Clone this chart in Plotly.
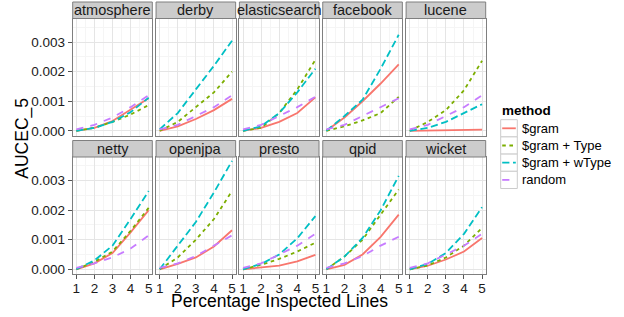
import plotly.graph_objects as go

# ---------------- data ----------------
projects = ["atmosphere", "derby", "elasticsearch", "facebook", "lucene",
            "netty", "openjpa", "presto", "qpid", "wicket"]
pct = [1, 2, 3, 4, 5]
methods = ["$gram", "$gram + Type", "$gram + wType", "random"]

gram_vals = [
    [0, 0.0001, 0.00033, 0.0007, 0.0011],      # atmosphere
    [0, 0.00015, 0.0004, 0.0007, 0.00108],     # derby
    [0, 0.0001, 0.0003, 0.0006, 0.00113],      # elasticsearch
    [0, 0.00045, 0.001, 0.0016, 0.00225],      # facebook
    [0, 0.00001, 0.00002, 0.00003, 0.00004],   # lucene
    [0, 0.0002, 0.00055, 0.00125, 0.002],      # netty
    [0, 0.00018, 0.0004, 0.00077, 0.00132],    # openjpa
    [0, 0.00005, 0.00012, 0.00027, 0.00049],   # presto
    [0, 0.00015, 0.0005, 0.0011, 0.00185],     # qpid
    [0, 0.00012, 0.00033, 0.0006, 0.00106],    # wicket
]
gram_type_vals = [
    [0, 0.0001, 0.0003, 0.00055, 0.00087],
    [0, 0.0003, 0.0008, 0.0013, 0.002],
    [0, 0.0001, 0.0006, 0.0014, 0.0024],
    [0, 0.00015, 0.00035, 0.0006, 0.00115],
    [0, 0.0003, 0.0007, 0.00137, 0.00237],
    [0, 0.00025, 0.0006, 0.0013, 0.00208],
    [0, 0.0004, 0.001, 0.0017, 0.00265],
    [0, 0.00015, 0.00035, 0.0006, 0.0009],
    [0, 0.00043, 0.001, 0.00185, 0.0027],
    [0, 0.00013, 0.0004, 0.0008, 0.0014],
]
gram_wtype_vals = [
    [0, 0.0001, 0.0003, 0.00063, 0.00112],
    [0.00005, 0.0006, 0.0014, 0.0022, 0.00305],
    [0, 0.00015, 0.0006, 0.0013, 0.0021],
    [0, 0.0005, 0.00105, 0.0021, 0.00325],
    [0, 0.0001, 0.0003, 0.0006, 0.0009],
    [0, 0.0003, 0.0008, 0.0017, 0.00265],
    [0, 0.0008, 0.0016, 0.0026, 0.00367],
    [0, 0.00018, 0.0005, 0.00105, 0.0018],
    [0, 0.00043, 0.00106, 0.002, 0.00316],
    [0, 0.00018, 0.00055, 0.0012, 0.0021],
]
random_vals = [
    [0.00005, 0.0002, 0.00045, 0.0008, 0.0012],
    [0.00005, 0.0002, 0.0005, 0.0008, 0.0012],
    [0.00005, 0.0002, 0.0005, 0.0008, 0.00115],
    [0.00005, 0.0002, 0.0005, 0.0008, 0.0011],
    [0.00005, 0.0002, 0.0005, 0.0008, 0.0012],
    [0.00005, 0.0002, 0.0004, 0.0007, 0.00115],
    [0.00005, 0.0002, 0.00045, 0.0008, 0.00115],
    [0.00005, 0.0002, 0.0005, 0.0008, 0.0012],
    [0.00005, 0.0002, 0.00045, 0.0008, 0.0011],
    [0.00005, 0.0002, 0.0005, 0.0008, 0.0012],
]
x_ticks = [1, 2, 3, 4, 5]
y_ticks = [0.0, 0.001, 0.002, 0.003]
y_tick_labels = ["0.000", "0.001", "0.002", "0.003"]

# ---------------- styling ----------------
W, H = 624, 317
FONT = "Liberation Sans, Arial, Helvetica, sans-serif"
colors = ["#F8766D", "#7CAE00", "#00BFC4", "#C77CFF"]
dashes = ["solid", "3.6px,3.6px", "7.2px,3.6px", "7.2px,7.2px"]
series = [gram_vals, gram_type_vals, gram_wtype_vals, random_vals]


def px(x):
    return x / W


def py(y):
    return 1 - y / H


col_left = [72.7 + 83.35 * i for i in range(5)]
panel_w = 79.6
row_top = [18.5, 157.0]
panel_h = 117.3
strip_h = 16.5

fig = go.Figure()
layout = {}
shapes = []
annotations = []

for i, proj in enumerate(projects):
    r, c = divmod(i, 5)
    n = i + 1
    xa = "x" if n == 1 else f"x{n}"
    ya = "y" if n == 1 else f"y{n}"
    for m in range(4):
        fig.add_trace(go.Scatter(
            x=pct, y=series[m][i], mode="lines", name=methods[m],
            line=dict(color=colors[m], width=1.8, dash=dashes[m]),
            xaxis=xa, yaxis=ya, showlegend=False, hoverinfo="skip"))
    left = col_left[c]
    top = row_top[r]
    layout[f"xaxis{n}"] = dict(
        domain=[px(left), px(left + panel_w)], range=[0.8, 5.2],
        anchor=ya, tickmode="array", tickvals=x_ticks,
        ticktext=[str(v) for v in x_ticks],
        showticklabels=(r == 1), ticks="outside" if r == 1 else "",
        ticklen=4, tickcolor="#555555", tickwidth=1, ticklabelstandoff=-3,
        showgrid=True, gridcolor="#E5E5E5", gridwidth=1,
        minor=dict(dtick=0.5, tick0=0.5, showgrid=True, gridcolor="#F5F5F5", gridwidth=0.6),
        showline=True, mirror=True, linecolor="#7F7F7F", linewidth=1,
        zeroline=False, fixedrange=True,
        tickfont=dict(family=FONT, size=13.5, color="#1a1a1a"))
    layout[f"yaxis{n}"] = dict(
        domain=[py(top + panel_h), py(top)], range=[-0.00017, 0.0038],
        anchor=xa, tickmode="array", tickvals=y_ticks, ticktext=y_tick_labels,
        showticklabels=(c == 0), ticks="outside" if c == 0 else "",
        ticklen=4, tickcolor="#555555", tickwidth=1,
        showgrid=True, gridcolor="#E5E5E5", gridwidth=1,
        minor=dict(dtick=0.0005, tick0=0.0005, showgrid=True, gridcolor="#F5F5F5", gridwidth=0.6),
        showline=True, mirror=True, linecolor="#7F7F7F", linewidth=1,
        zeroline=False, fixedrange=True,
        tickfont=dict(family=FONT, size=13.5, color="#1a1a1a"))
    # strip
    s_top = top - strip_h
    shapes.append(dict(type="rect", xref="paper", yref="paper",
                       x0=px(left), x1=px(left + panel_w),
                       y0=py(top), y1=py(s_top),
                       fillcolor="#CCCCCC", line=dict(color="#7F7F7F", width=1)))
    annotations.append(dict(text=proj, xref="paper", yref="paper",
                            x=px(left + panel_w / 2), y=py(s_top + strip_h / 2),
                            xanchor="center", yanchor="middle", showarrow=False,
                            font=dict(family=FONT, size=14.5, color="#1a1a1a")))

# axis titles
annotations.append(dict(text="Percentage Inspected Lines", xref="paper", yref="paper",
                        x=px(279), y=py(301), xanchor="center", yanchor="middle",
                        showarrow=False, font=dict(family=FONT, size=17.5, color="#000")))
annotations.append(dict(text="AUCEC_5", xref="paper", yref="paper",
                        x=px(21.7), y=py(138), xanchor="center", yanchor="middle",
                        textangle=-90, showarrow=False,
                        font=dict(family=FONT, size=17.5, color="#000")))

# legend (drawn manually)
annotations.append(dict(text="<b>method</b>", xref="paper", yref="paper",
                        x=px(499.5), y=py(110), xanchor="left", yanchor="middle",
                        showarrow=False, font=dict(family=FONT, size=13.5, color="#000")))
key_x0, key_x1 = 500.7, 517.3
for m in range(4):
    cy = 128.3 + 17.2 * m
    shapes.append(dict(type="rect", xref="paper", yref="paper",
                       x0=px(key_x0), x1=px(key_x1), y0=py(cy + 8.6), y1=py(cy - 8.6),
                       fillcolor="white", line=dict(color="#CCCCCC", width=1)))
    shapes.append(dict(type="line", xref="paper", yref="paper",
                       x0=px(key_x0 + 1.5), x1=px(key_x1 - 1.5), y0=py(cy), y1=py(cy),
                       line=dict(color=colors[m], width=1.8, dash=dashes[m])))
    annotations.append(dict(text=methods[m], xref="paper", yref="paper",
                            x=px(519.5), y=py(cy), xanchor="left", yanchor="middle",
                            showarrow=False, font=dict(family=FONT, size=13, color="#000")))

fig.update_layout(
    width=W, height=H, margin=dict(l=0, r=0, t=0, b=0, autoexpand=False),
    paper_bgcolor="white", plot_bgcolor="white",
    showlegend=False, shapes=shapes, annotations=annotations,
    font=dict(family=FONT), **layout)

fig.write_html("out.html", config={"displayModeBar": False},
               post_script="document.body.style.margin='0';document.body.style.overflow='hidden';")
